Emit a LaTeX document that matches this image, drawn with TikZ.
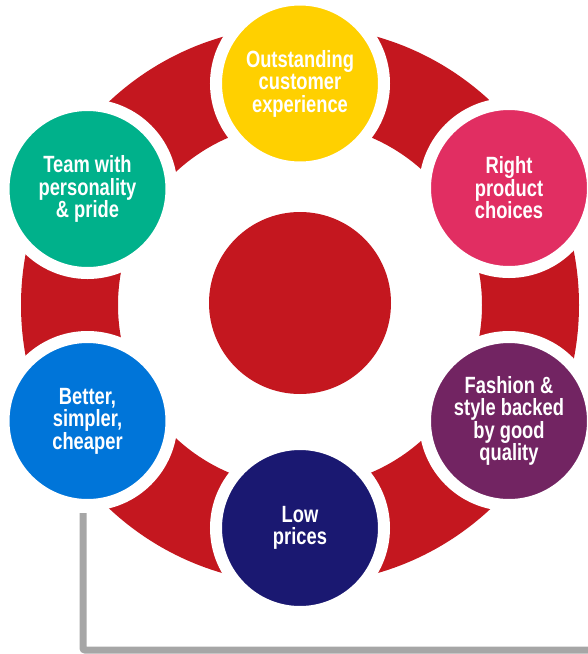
\documentclass[tikz,border=0pt]{standalone}
\usepackage{fontspec}
\usepackage{xcolor}
\usetikzlibrary{calc}
\newfontfamily\labelfont{Liberation Sans}[FakeStretch=0.78]
\definecolor{RingRed}{HTML}{C4171F}
\definecolor{ValYellow}{HTML}{FFD000}
\definecolor{ValPink}{HTML}{E12E62}
\definecolor{ValPurple}{HTML}{722462}
\definecolor{ValNavy}{HTML}{1A1871}
\definecolor{ValBlue}{HTML}{0075D9}
\definecolor{ValGreen}{HTML}{00B18B}
\definecolor{LineGrey}{HTML}{A6A6A6}

\begin{document}
\begin{tikzpicture}[
  x=1pt, y=-1pt,
  value/.style={circle, draw=white, line width=12pt, minimum size=168pt, inner sep=0pt,
    align=center, text=white, font=\labelfont\bfseries\fontsize{23.5}{22.5}\selectfont},
  hub/.style={circle, fill=RingRed, minimum size=182pt, inner sep=0pt},
  greyline/.style={draw=LineGrey, line width=7pt, rounded corners=2pt}
]
\useasboundingbox (0,0) rectangle (587,654);

% red ring behind the values
\fill[RingRed, even odd rule] (300,305) circle (279pt) (300,305) circle (182pt);
\node[hub] (hub) at (300,303) {};

\node[value, fill=ValYellow] (service) at (300,83.5) {Outstanding\\customer\\experience};
\node[value, fill=ValPink]   (product) at (509,188) {Right\\product\\choices};
\node[value, fill=ValPurple] (fashion) at (509,421) {Fashion \&\\style backed\\by good\\quality};
\node[value, fill=ValNavy]   (prices)  at (300,528) {Low\\prices};
\node[value, fill=ValBlue]   (better)  at (87.5,421) {Better,\\simpler,\\cheaper};
\node[value, fill=ValGreen]  (team)    at (87.5,189) {Team with\\personality\\\& pride};

\coordinate (lineend) at (592,650);
\draw[greyline] ([xshift=-4.5pt,yshift=-2pt]better.south) |- (lineend);
\end{tikzpicture}
\end{document}
